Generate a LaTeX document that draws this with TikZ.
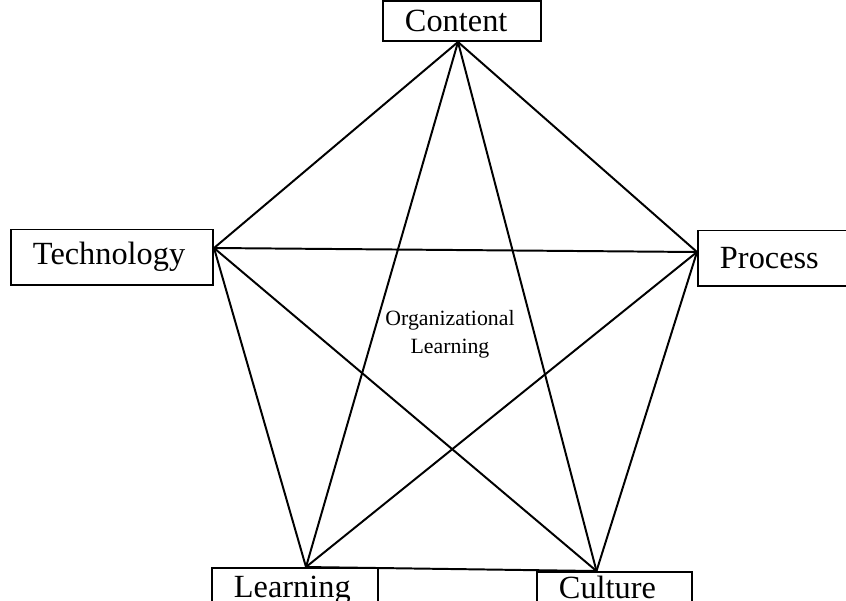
\documentclass[tikz,border=0pt]{standalone}
\usepackage{fontspec}
\setmainfont{Liberation Serif}
\usetikzlibrary{calc}
\begin{document}
\begin{tikzpicture}
 [x=0.025cm,y=-0.025cm,line width=1.4pt,
  box/.style={draw,rectangle,inner xsep=0.55cm,inner ysep=0pt,text width=#1,align=left,font=\fontsize{23}{27}\selectfont},
  lbl/.style={align=center,inner sep=0pt,font=\fontsize{15.5}{20}\selectfont}]
  \useasboundingbox (0,0) rectangle (846,600);
  \node (content)[box=2.85cm,minimum height=1.0cm] at (462,21)  {Content};
  \node (tech)[box=3.95cm,minimum height=1.375cm] at (112,257)  {Technology};
  \node (process)[box=2.7cm,minimum height=1.375cm] at (774,258)  {Process};
  \node (learning)[box=3.05cm,minimum height=1.1cm] at (295,590)  {Learning};
  \node (culture)[box=2.775cm,minimum height=0.75cm] at (614.5,587)  {Culture};
  \node (org)[lbl] at (450,334)  {Organizational\\Learning};

  \coordinate (pc) at ($(content.south)+(-4,0)$);
  \coordinate (pt) at ($(tech.east)+(0,-9)$);
  \coordinate (pp) at ($(process.west)+(0,-6)$);
  \coordinate (pl) at ($(learning.north)+(11,0)$);
  \coordinate (pu) at ($(culture.north)+(-18,0)$);

  \foreach \from/\to in {pc/pt,pc/pp,pc/pl,pc/pu,pt/pp,pt/pl,pt/pu,pp/pl,pp/pu,pl/pu}
    \draw (\from) -- (\to);

\end{tikzpicture}
\end{document}
